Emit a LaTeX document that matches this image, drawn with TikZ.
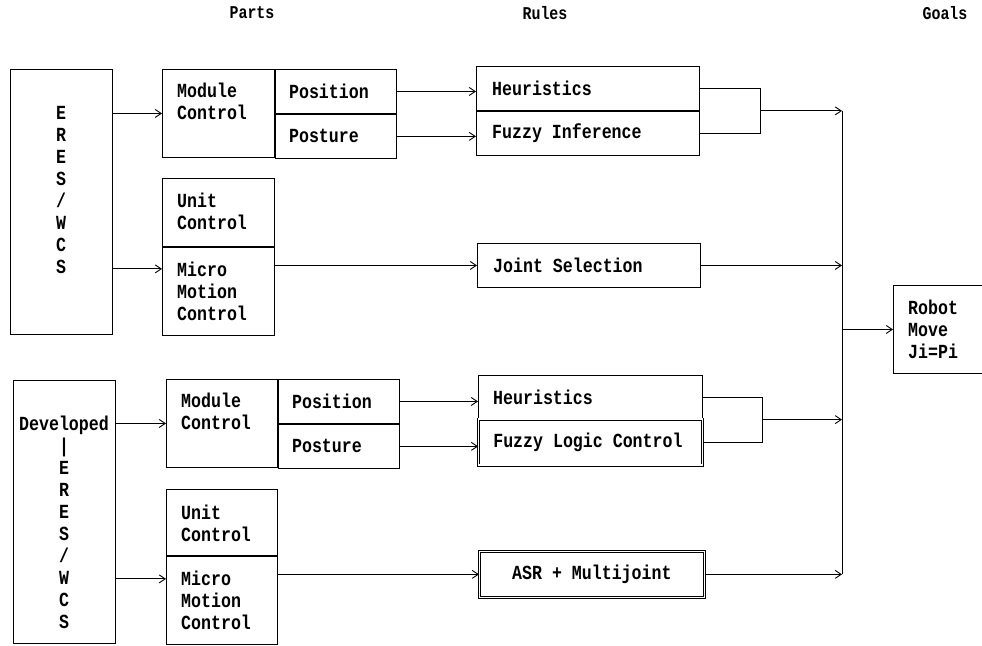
\documentclass[tikz,border=0pt]{standalone}
\usepackage{fontspec}
\usepackage{tikz}
\usetikzlibrary{arrows.meta,positioning,calc}
\newfontfamily\dotfont[FakeStretch=0.83]{Liberation Mono}

\begin{document}
\begin{tikzpicture}[x=1pt, y=-1pt, >={Straight Barb[length=6pt,width=8pt]},
    part/.style={rectangle, draw, line width=0.9pt, inner sep=0pt},
    dbl/.style={part, double, line width=0.7pt, double distance=1.6pt},
    lbl/.style={font=\dotfont\bfseries\fontsize{20}{22}\selectfont, align=left, inner sep=0pt},
    head/.style={font=\dotfont\bfseries\fontsize{18}{20}\selectfont, inner sep=0pt},
    link/.style={->, line width=0.9pt}]
    \useasboundingbox (0,0) rectangle (982,645);

    % Column heads
    \node[head] (parts) at (252,13) {Parts};
    \node[head] (rules) at (545,13) {Rules};
    \node[head] (goals) at (945,13) {Goals};

    % Upper group: ERES/WCS
    \node[part, minimum width=102pt, minimum height=265pt, anchor=north west] (eres1) at (10,69) {};
    \node[lbl, align=center] (eres1txt) at (61,190) {E\\R\\E\\S\\/\\W\\C\\S};
    \node[part, minimum width=112pt, minimum height=88pt, anchor=north west] (mod1) at (162,69) {};
    \node[part, minimum width=121pt, minimum height=44pt, below right=0pt and 0pt of mod1.north east] (pos1) {};
    \node[part, minimum width=121pt, minimum height=44pt, below=0pt of pos1] (post1) {};
    \node[part, minimum width=112pt, minimum height=68pt, anchor=north west] (unit1) at (162,178) {};
    \node[part, minimum width=112pt, minimum height=88pt, below=0pt of unit1] (micro1) {};
    \node[lbl, anchor=west] (mod1txt) at ($(mod1.north west)+(15,32)$) {Module\\Control};
    \node[lbl, right=14pt of pos1.west] (pos1txt) {Position};
    \node[lbl, right=14pt of post1.west] (post1txt) {Posture};
    \node[lbl, anchor=west] (unit1txt) at ($(unit1.north west)+(15,33)$) {Unit\\Control};
    \node[lbl, right=15pt of micro1.west] (micro1txt) {Micro\\Motion\\Control};

    \node[part, minimum width=223pt, minimum height=44pt, anchor=north west] (heur1) at (476,66) {};
    \node[part, minimum width=223pt, minimum height=44pt, below=0pt of heur1] (fuzz1) {};
    \node[part, minimum width=223pt, minimum height=44pt, anchor=north west] (joint) at (477,243) {};
    \node[lbl, right=16pt of heur1.west] (heur1txt) {Heuristics};
    \node[lbl, right=16pt of fuzz1.west] (fuzz1txt) {Fuzzy Inference};
    \node[lbl, right=16pt of joint.west] (jointtxt) {Joint Selection};

    % Lower group: Developed ERES/WCS
    \node[part, minimum width=102pt, minimum height=263pt, anchor=north west] (eres2) at (13,380) {};
    \node[lbl, align=center] (eres2txt) at (64,522) {Developed\\|\\E\\R\\E\\S\\/\\W\\C\\S};
    \node[part, minimum width=111pt, minimum height=88pt, anchor=north west] (mod2) at (166,379) {};
    \node[part, minimum width=121pt, minimum height=44pt, below right=0pt and 0pt of mod2.north east] (pos2) {};
    \node[part, minimum width=121pt, minimum height=44pt, below=0pt of pos2] (post2) {};
    \node[part, minimum width=111pt, minimum height=66pt, anchor=north west] (unit2) at (166,489) {};
    \node[part, minimum width=111pt, minimum height=88pt, below=0pt of unit2] (micro2) {};
    \node[lbl, anchor=west] (mod2txt) at ($(mod2.north west)+(15,32)$) {Module\\Control};
    \node[lbl, right=14pt of pos2.west] (pos2txt) {Position};
    \node[lbl, right=14pt of post2.west] (post2txt) {Posture};
    \node[lbl, anchor=west] (unit2txt) at ($(unit2.north west)+(15,34)$) {Unit\\Control};
    \node[lbl, right=15pt of micro2.west] (micro2txt) {Micro\\Motion\\Control};

    \node[part, minimum width=224pt, minimum height=43pt, anchor=north west] (heur2) at (478,375) {};
    \node[dbl, minimum width=224pt, minimum height=46pt, below=0pt of heur2] (flc) {};
    \node[dbl, minimum width=225pt, minimum height=46pt, anchor=north west] (asr) at (479,551) {};
    \node[lbl, right=15pt of heur2.west] (heur2txt) {Heuristics};
    \node[lbl, right=15pt of flc.west] (flctxt) {Fuzzy Logic Control};
    \node[lbl] (asrtxt) at (asr.center) {ASR + Multijoint};

    % Goal
    \node[part, minimum width=100pt, minimum height=88pt, anchor=north west] (robot) at (893,285) {};
    \node[lbl, right=15pt of robot.west] (robottxt) {Robot\\Move\\Ji=Pi};
    \coordinate (bus) at (842,0);

    % Connectors
    \draw[link] (eres1.east |- mod1.west) -- (mod1.west);
    \draw[link] ($(eres1.east |- micro1.north)+(0,22)$) -- ($(micro1.north west)+(0,22)$);
    \draw[link] (pos1.east) -- (pos1.east -| heur1.west);
    \draw[link] (post1.east) -- (post1.east -| fuzz1.west);
    \draw[link] (micro1.east |- joint.west) -- (joint.west);

    \draw[link] (eres2.east |- mod2.west) -- (mod2.west);
    \draw[link] ($(eres2.east |- micro2.north)+(0,23)$) -- ($(micro2.north west)+(0,23)$);
    \draw[link] (pos2.east) -- (pos2.east -| heur2.west);
    \draw[link] (post2.east) -- (post2.east -| flc.west);
    \draw[link] (micro2.east |- asr.west) -- (asr.west);

    \draw[line width=0.9pt] (heur1.east) -- ++(61,0) |- (fuzz1.east);
    \coordinate (merge1) at ($(heur1.east)!0.5!(fuzz1.east)+(61,0)$);
    \draw[line width=0.9pt] (heur2.east) -- ++(60,0) |- (flc.east);
    \coordinate (merge2) at ($(heur2.east)!0.5!(flc.east)+(60,0)$);

    \draw[line width=0.9pt] (merge1 -| bus) -- (asr.east -| bus);
    \draw[link] (merge1) -- (merge1 -| bus);
    \draw[link] (joint.east) -- (joint.east -| bus);
    \draw[link] (merge2) -- (merge2 -| bus);
    \draw[link] (asr.east) -- (asr.east -| bus);
    \draw[link] (bus |- robot.west) -- (robot.west);
\end{tikzpicture}
\end{document}
